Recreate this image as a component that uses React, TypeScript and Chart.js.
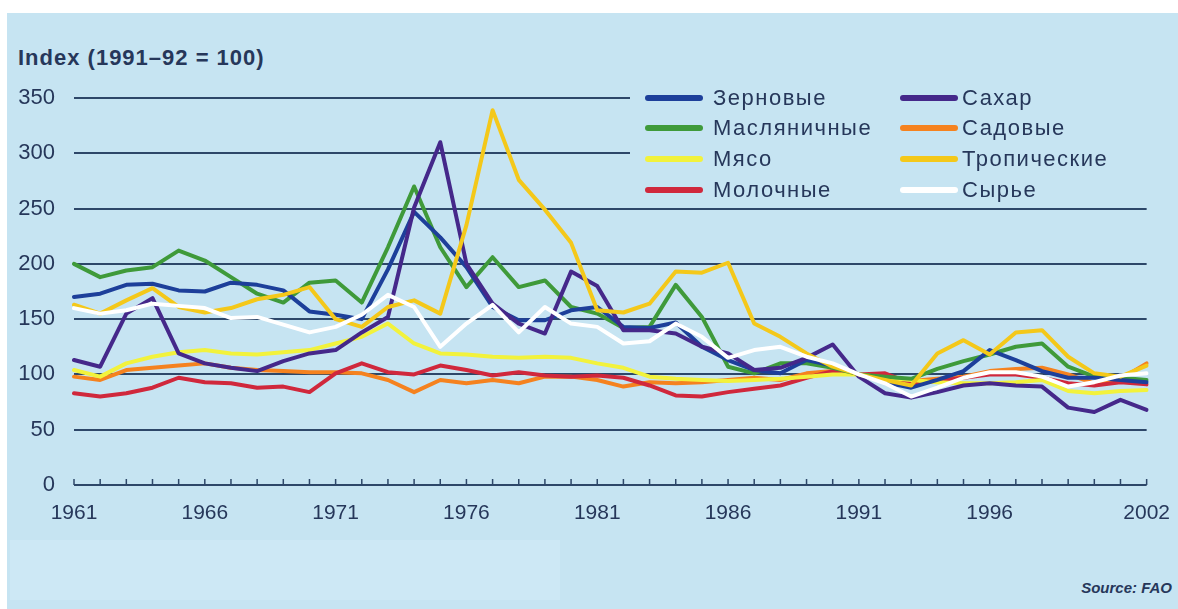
import React, { useEffect, useRef } from "react";
import { Chart, registerables } from "chart.js";

Chart.register(...registerables);

const years = [
  "1961", "1962", "1963", "1964", "1965", "1966", "1967", "1968", "1969", "1970",
  "1971", "1972", "1973", "1974", "1975", "1976", "1977", "1978", "1979", "1980",
  "1981", "1982", "1983", "1984", "1985", "1986", "1987", "1988", "1989", "1990",
  "1991", "1992", "1993", "1994", "1995", "1996", "1997", "1998", "1999", "2000",
  "2001", "2002",
];
const shownYears = ["1961", "1966", "1971", "1976", "1981", "1986", "1991", "1996", "2002"];
const yTickValues = [0, 50, 100, 150, 200, 250, 300, 350];

const cereals = [170, 173, 181, 182, 176, 175, 183, 181, 176, 157, 154, 150, 195, 247, 224, 197, 161, 149, 149, 158, 161, 143, 142, 147, 125, 113, 104, 101, 113, 108, 100, 93, 88, 95, 103, 122, 113, 103, 97, 97, 95, 93];
const oilseeds = [200, 188, 194, 197, 212, 203, 188, 173, 165, 183, 185, 165, 215, 270, 215, 179, 206, 179, 185, 161, 155, 142, 143, 181, 152, 107, 101, 110, 110, 106, 100, 98, 96, 105, 112, 118, 125, 128, 107, 98, 97, 95];
const meat = [104, 98, 110, 116, 120, 122, 119, 118, 120, 122, 128, 134, 146, 128, 119, 118, 116, 115, 116, 115, 110, 106, 98, 96, 95, 94, 95, 96, 98, 100, 100, 97, 95, 93, 92, 92, 93, 95, 85, 83, 85, 86];
const dairy = [83, 80, 83, 88, 97, 93, 92, 88, 89, 84, 101, 110, 102, 100, 108, 104, 99, 102, 99, 98, 99, 97, 90, 81, 80, 84, 87, 90, 97, 103, 100, 101, 92, 94, 97, 100, 100, 97, 92, 90, 93, 91];
const sugar = [113, 107, 155, 169, 119, 110, 106, 103, 112, 119, 122, 138, 152, 251, 310, 200, 164, 146, 137, 193, 180, 140, 140, 137, 125, 119, 104, 106, 115, 127, 98, 83, 79, 84, 90, 92, 90, 89, 70, 66, 77, 68];
const horticulture = [98, 95, 104, 106, 108, 110, 106, 104, 103, 102, 102, 101, 95, 84, 95, 92, 95, 92, 98, 98, 95, 89, 93, 92, 93, 95, 97, 95, 101, 103, 100, 97, 94, 96, 98, 103, 105, 106, 100, 92, 96, 110];
const tropical = [163, 155, 167, 178, 161, 156, 160, 168, 172, 179, 150, 143, 161, 167, 155, 235, 339, 276, 249, 219, 158, 156, 164, 193, 192, 201, 146, 134, 119, 107, 100, 95, 90, 119, 131, 118, 138, 140, 116, 101, 98, 108];
const rawMaterials = [160, 155, 158, 164, 162, 160, 151, 152, 145, 138, 143, 154, 172, 161, 125, 146, 163, 138, 161, 146, 143, 128, 130, 146, 134, 115, 122, 125, 116, 110, 100, 92, 80, 88, 97, 102, 102, 98, 89, 93, 99, 101];

const legendLeft = ["Зерновые", "Масляничные", "Мясо", "Молочные"];
const legendRight = ["Сахар", "Садовые", "Тропические", "Сырье"];

const BG = "#c6e4f2";
const INK = "#26375a";
const GRID = "#2d4769";
const FONT = "'Liberation Sans', Arial, Helvetica, sans-serif";

const COLORS: Record<string, string> = {
  "Зерновые": "#1d3f9a",
  "Масляничные": "#3f9a3a",
  "Мясо": "#f2f23c",
  "Молочные": "#d0283c",
  "Сахар": "#45288a",
  "Садовые": "#f5821f",
  "Тропические": "#f4c81a",
  "Сырье": "#ffffff",
};

const overlayPlugin = {
  id: "overlay",
  beforeDatasetsDraw(chart: any) {
    const ctx = chart.ctx;
    ctx.save();
    ctx.fillStyle = BG;
    ctx.fillRect(630, 84, 530, 116);
    ctx.restore();
  },
  afterDatasetsDraw(chart: any) {
    const ctx = chart.ctx;
    const xs = chart.scales.x;
    const y0 = chart.scales.y.getPixelForValue(0);
    ctx.save();
    ctx.strokeStyle = GRID;
    ctx.lineWidth = 1.5;
    for (let i = 0; i < years.length; i++) {
      const px = xs.getPixelForValue(i);
      ctx.beginPath();
      ctx.moveTo(px, y0);
      ctx.lineTo(px, y0 - 6);
      ctx.stroke();
    }
    // legend
    const rows = [98, 128, 159, 190];
    const cols = [
      { names: legendLeft, x1: 648, x2: 700, tx: 713 },
      { names: legendRight, x1: 903, x2: 955, tx: 962 },
    ];
    ctx.font = `22px ${FONT}`;
    (ctx as any).letterSpacing = "1.5px";
    ctx.textBaseline = "middle";
    ctx.textAlign = "left";
    cols.forEach((c) => {
      c.names.forEach((name, r) => {
        const ds = chart.data.datasets.find((d: any) => d.label === name);
        if (!ds) return;
        ctx.strokeStyle = ds.borderColor;
        ctx.lineWidth = 6;
        ctx.lineCap = "round";
        ctx.beginPath();
        ctx.moveTo(c.x1, rows[r]);
        ctx.lineTo(c.x2, rows[r]);
        ctx.stroke();
        ctx.fillStyle = INK;
        ctx.fillText(name, c.tx, rows[r] + 1);
      });
    });
    ctx.restore();
  },
};

export default function App() {
  const canvasRef = useRef<HTMLCanvasElement | null>(null);

  useEffect(() => {
    if (!canvasRef.current) return;
    const mk = (label: string, data: number[]) => ({
      label,
      data,
      borderColor: COLORS[label],
      backgroundColor: COLORS[label],
      borderWidth: 4,
      pointRadius: 0,
      tension: 0,
      borderJoinStyle: "round" as const,
      borderCapStyle: "round" as const,
      fill: false,
    });
    const chart = new Chart(canvasRef.current, {
      type: "line",
      data: {
        labels: years,
        datasets: [
          mk("Сырье", rawMaterials),
          mk("Тропические", tropical),
          mk("Сахар", sugar),
          mk("Зерновые", cereals),
          mk("Масляничные", oilseeds),
          mk("Мясо", meat),
          mk("Молочные", dairy),
          mk("Садовые", horticulture),
        ],
      },
      options: {
        animation: false,
        responsive: false,
        devicePixelRatio: 1,
        layout: { padding: { left: 0, top: 98, right: 23, bottom: 0 } },
        plugins: {
          legend: { display: false },
          tooltip: { enabled: false },
          title: { display: false },
        },
        scales: {
          x: {
            type: "category",
            grid: { display: false },
            border: { display: false },
            afterFit(scale: any) {
              scale.height = 124;
            },
            ticks: {
              autoSkip: false,
              maxRotation: 0,
              minRotation: 0,
              padding: 8,
              color: INK,
              font: { family: FONT, size: 21 },
              callback: (_v: any, i: number) => (shownYears.includes(years[i]) ? years[i] : ""),
            },
          },
          y: {
            min: 0,
            max: 350,
            afterFit(scale: any) {
              scale.width = 74;
            },
            afterBuildTicks(scale: any) {
              scale.ticks = yTickValues.map((v) => ({ value: v }));
            },
            border: { display: false },
            grid: { color: GRID, lineWidth: 2, drawTicks: false },
            ticks: {
              stepSize: 50,
              padding: 19,
              color: INK,
              font: { family: FONT, size: 22 },
            },
          },
        },
      },
      plugins: [overlayPlugin],
    });
    return () => chart.destroy();
  }, []);

  return (
    <div style={{ position: "absolute", left: 0, top: 0, width: 1178, height: 609, background: "#ffffff", overflow: "hidden" }}>
      <div style={{ position: "absolute", left: 7, top: 13, width: 1171, height: 596, background: BG }} />
      <div style={{ position: "absolute", left: 10, top: 540, width: 550, height: 60, background: "#cde8f5" }} />
      <div
        style={{
          position: "absolute",
          left: 18,
          top: 45,
          fontFamily: FONT,
          fontWeight: "bold",
          fontSize: 22,
          letterSpacing: "1px",
          color: INK,
          whiteSpace: "nowrap",
        }}
      >
        Index (1991–92 = 100)
      </div>
      <div
        style={{
          position: "absolute",
          right: 6,
          top: 579,
          fontFamily: FONT,
          fontStyle: "italic",
          fontWeight: "bold",
          fontSize: 15,
          color: INK,
          whiteSpace: "nowrap",
        }}
      >
        Source: FAO
      </div>
      <canvas ref={canvasRef} width={1178} height={609} style={{ position: "absolute", left: 0, top: 0, width: 1178, height: 609 }} />
    </div>
  );
}
